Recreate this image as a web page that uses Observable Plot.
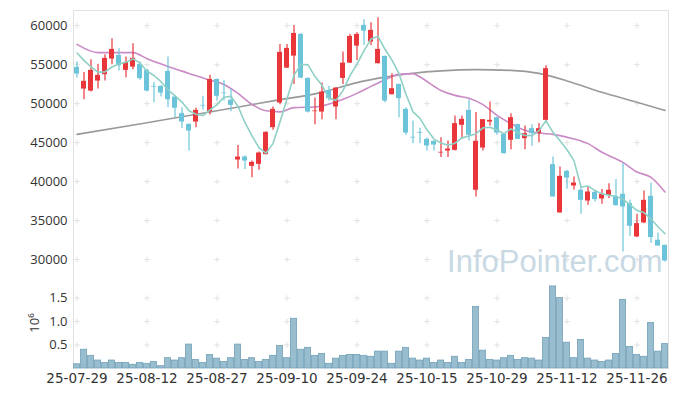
<!DOCTYPE html>
<html><head><meta charset="utf-8">
<script src="https://cdn.jsdelivr.net/npm/d3@7"></script>
<script src="https://cdn.jsdelivr.net/npm/@observablehq/plot@0.6"></script>
<style>
body{margin:0;background:#fff;font-family:"Open Sans",sans-serif;}
#chart svg{display:block;}
</style></head><body><div id="chart"></div>
<script>
const dates = ["25-07-29","25-07-30","25-07-31","25-08-01","25-08-04","25-08-05","25-08-06","25-08-07","25-08-08","25-08-11",
"25-08-12","25-08-13","25-08-14","25-08-18","25-08-19","25-08-20","25-08-21","25-08-22","25-08-25","25-08-26",
"25-08-27","25-08-28","25-08-29","25-09-01","25-09-02","25-09-03","25-09-04","25-09-05","25-09-08","25-09-09",
"25-09-10","25-09-11","25-09-12","25-09-15","25-09-16","25-09-17","25-09-18","25-09-19","25-09-22","25-09-23",
"25-09-24","25-09-25","25-09-26","25-09-29","25-09-30","25-10-01","25-10-02","25-10-10","25-10-13","25-10-14",
"25-10-15","25-10-16","25-10-17","25-10-20","25-10-21","25-10-22","25-10-23","25-10-24","25-10-27","25-10-28",
"25-10-29","25-10-30","25-10-31","25-11-03","25-11-04","25-11-05","25-11-06","25-11-07","25-11-10","25-11-11",
"25-11-12","25-11-13","25-11-14","25-11-17","25-11-18","25-11-19","25-11-20","25-11-21","25-11-24","25-11-25",
"25-11-26","25-11-27","25-11-28","25-12-01","25-12-02"];
const openP = [54650,51870,51615,52900,53720,55720,56190,54270,54690,55040,
54270,52220,52220,54140,50850,48720,47350,47640,49780,48970,
53110,51360,50430,42770,43150,41960,42220,43460,46920,50080,
54560,56100,58880,53240,48970,48920,51700,49570,53240,55200,
57380,60040,57900,55130,56060,51150,52470,49270,45680,46280,
45420,45170,43670,43920,44010,47220,49140,38890,44310,47640,
48200,46060,45300,47310,45510,46790,46150,47860,42180,35980,
41320,39440,38890,37510,38630,37770,38240,38110,38370,37180,
32900,34700,38110,32480,31830];
const highP = [55330,54010,55640,55040,56280,58330,57050,55975,57690,55330,
54400,52730,52300,55975,51060,49490,47400,49440,50940,53630,
53150,52990,51870,44620,43330,42640,43800,46400,49570,57600,
57600,60040,59000,53300,50720,52640,52220,52050,56620,58880,
59100,60770,60380,61030,56100,53850,52500,49490,47770,46830,
45640,45200,45640,45210,48410,48410,50510,48850,47950,50210,
48250,46100,48720,47350,47130,47310,47440,54870,43150,41870,
41450,40590,39400,39230,38890,38980,39740,40260,42310,37600,
35810,38800,39820,33410,31850];
const lowP = [53280,50510,51500,51870,52900,55000,54180,53330,54360,52990,
51500,50130,50850,49490,48200,46800,43920,46920,49140,48540,
50330,50330,48970,41620,41540,40510,41450,43400,46580,49870,
54500,52470,53200,48800,47310,47950,50330,47950,52470,55150,
55550,57470,57470,55100,50130,51100,48200,45940,44870,44870,
43920,43920,43080,43080,43920,45510,45210,38030,43920,47130,
45940,43500,44100,45400,44100,44530,45000,47440,38030,35980,
39010,38930,35810,36960,37390,37090,37820,36830,30980,32990,
32820,34610,32050,31740,29690];
const closeP = [53800,52860,54270,53630,55810,56960,54870,55290,55810,53200,
51615,52130,51360,50510,49400,47640,46490,49140,49690,53110,
50940,51280,49780,43150,42640,42470,43670,46320,49270,56580,
57090,59010,53280,48920,49050,51490,50640,52000,55200,58630,
58880,59310,59400,56960,50330,51920,50640,46230,45590,46190,
44570,44690,43760,44180,47440,47990,45940,45170,47950,47860,
46230,43590,48200,45420,46150,46150,46790,54490,38030,40680,
40460,39820,37600,38670,37690,38370,38890,36920,36750,34270,
34610,37600,32820,31740,29820];
const volume = [0.09,0.40,0.27,0.17,0.12,0.17,0.12,0.12,0.08,0.12,
0.10,0.14,0.05,0.22,0.17,0.22,0.51,0.18,0.12,0.29,
0.21,0.14,0.22,0.51,0.18,0.22,0.14,0.18,0.27,0.48,
0.22,1.06,0.40,0.44,0.27,0.31,0.10,0.21,0.27,0.29,
0.29,0.27,0.25,0.36,0.36,0.10,0.36,0.44,0.21,0.17,
0.21,0.12,0.17,0.12,0.25,0.12,0.18,1.31,0.38,0.18,
0.17,0.22,0.27,0.18,0.22,0.21,0.17,0.65,1.75,1.50,
0.55,0.22,0.61,0.21,0.17,0.14,0.17,0.31,1.46,0.46,
0.29,0.25,0.97,0.36,0.52];
const ma5 = [56490,55550,54700,54050,54074,54706,55108,55312,55748,55226,
54157,53609,52823,51763,51003,50208,49080,48636,48472,49214,
49874,50832,50960,49652,47558,45864,44342,43650,44874,47662,
50586,53654,55046,54976,53470,52350,50676,50420,51676,53592,
55070,56804,58284,58636,56976,55584,53850,51216,48942,48114,
46644,45454,44960,44678,44928,45612,45862,46144,46898,46982,
46630,46160,46766,46260,45918,45902,46542,47800,46322,45228,
44090,42696,39318,39446,38848,38430,38244,38108,37724,37040,
36288,36030,35210,34208,33318];
const ma20Idx = [0,3,8,10,13,16,19,21,23,25,27,29,31,34,38,40,42,44,46,48,49,52,54,56,58,60,62,64,66,68,71,73,75,78,80,82,84];
const ma20Val = [57600,56540,56540,55770,54780,53880,52990,52470,51320,49910,49080,48950,49490,49570,50550,51320,52220,53080,53760,53850,53410,51700,51060,50680,49870,48500,47440,46580,46230,46060,45480,44870,43760,42470,41230,40550,38670];
const ma120Idx = [0,10,20,28,35,40,44,48,52,57,62,66,70,75,80,84];
const ma120Val = [46060,47560,49080,50360,51450,52700,53400,53900,54200,54360,54270,53880,52920,51450,50180,49140];
const xTicks = ["25-07-29","25-08-12","25-08-27","25-09-10","25-09-24","25-10-15","25-10-29","25-11-12","25-11-26"];
const yTicks = [30000,35000,40000,45000,50000,55000,60000];
const vTicks = [0.5,1.0,1.5];

const UP = "#e8363b", DOWN = "#6cc4da";
const candles = dates.map((d,i)=>({d,o:openP[i],h:highP[i],l:lowP[i],c:closeP[i],v:volume[i]}));
const colorOf = r => r.c >= r.o ? UP : DOWN;
const ma5Data = dates.map((d,i)=>({d,v:ma5[i]}));
const ma20Data = ma20Idx.map((k,j)=>({d:dates[k],v:ma20Val[j]}));
const ma120Data = ma120Idx.map((k,j)=>({d:dates[k],v:ma120Val[j]}));
const crossP = xTicks.flatMap(x=>yTicks.map(y=>({x,y})));
const crossV = xTicks.flatMap(x=>vTicks.map(y=>({x,y})));
const font = "13px";
const gridC = "#e2e2e2", frameC = "#e0e0e0";

const price = Plot.plot({
  width:677, height:277, marginTop:10, marginLeft:73, marginRight:9, marginBottom:0,
  style:{fontFamily:"Open Sans, sans-serif", fontSize:font, color:"#333", background:"#fff"},
  x:{type:"band", domain:dates, padding:0, axis:null},
  y:{domain:[27700,61950], ticks:yTicks, tickFormat:d=>String(d), tickSize:0, tickPadding:6, label:null},
  marks:[
    Plot.frame({stroke:frameC}),
    Plot.dot(crossP,{x:"x",y:"y",symbol:"plus",r:2,stroke:gridC,strokeWidth:1}),
    Plot.text(["InfoPointer.com"],{frameAnchor:"bottom-right",dx:-6,dy:-6,fontSize:31,fill:"#c9d9e4",fontFamily:"Liberation Sans, Arial, sans-serif",text:d=>d}),
    Plot.line(ma120Data,{x:"d",y:"v",stroke:"#9a9a9a",strokeWidth:1.6,curve:"monotone-x"}),
    Plot.line(ma20Data,{x:"d",y:"v",stroke:"#c98ac6",strokeWidth:1.6,curve:"monotone-x"}),
    Plot.ruleX(candles,{x:"d",y1:"l",y2:"h",stroke:colorOf,strokeWidth:1.2}),
    Plot.barY(candles,{x:"d",y1:"o",y2:"c",fill:colorOf,insetLeft:1,insetRight:1}),
    Plot.line(ma5Data,{x:"d",y:"v",stroke:"#8fd0c6",strokeWidth:1.6})
  ]
});

const vol = Plot.plot({
  width:677, height:119, marginTop:0, marginLeft:73, marginRight:9, marginBottom:28,
  style:{fontFamily:"Open Sans, sans-serif", fontSize:font, color:"#333", background:"#fff"},
  x:{type:"band", domain:dates, padding:0, label:null},
  y:{domain:[0,1.94], ticks:vTicks, tickFormat:d3.format(".1f"), tickSize:0, tickPadding:6,
     label:"10⁶", labelAnchor:"center", labelArrow:"none", labelOffset:44},
  marks:[
    Plot.frame({anchor:"left",stroke:frameC}),
    Plot.frame({anchor:"right",stroke:frameC}),
    Plot.axisX({ticks:xTicks, tickSize:0, tickPadding:5, label:null, fontFamily:"DejaVu Sans, sans-serif", fontSize:13.5, fill:"#333"}),
    Plot.dot(crossV,{x:"x",y:"y",symbol:"plus",r:2,stroke:gridC,strokeWidth:1}),
    Plot.barY(candles,{x:"d",y:"v",fill:"#97bdcf",stroke:"#74a2b9",strokeWidth:0.8,insetLeft:0.4,insetRight:0.4})
  ]
});
document.getElementById("chart").append(price, vol);
</script></body></html>
